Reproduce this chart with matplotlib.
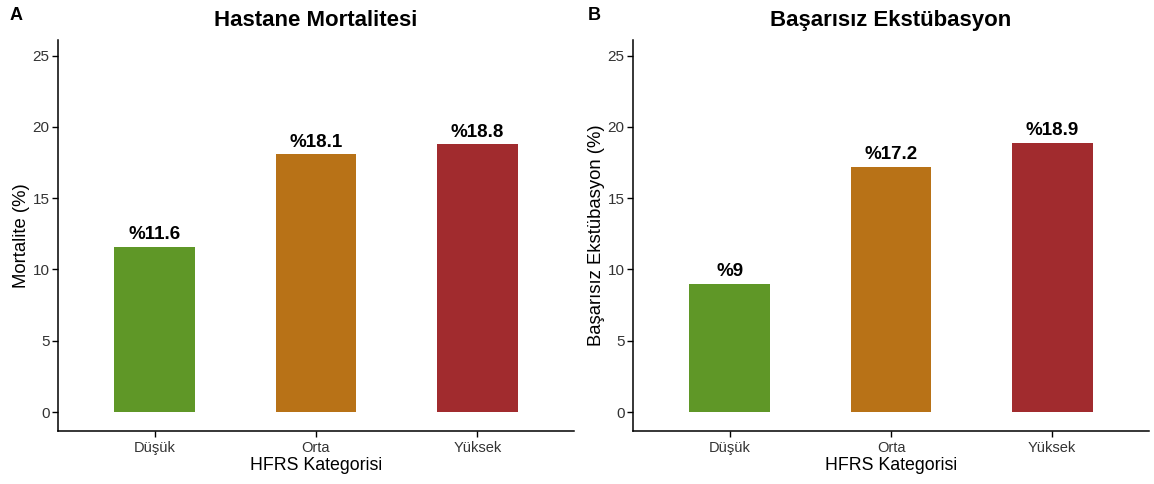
import matplotlib
matplotlib.use("Agg")
import matplotlib.pyplot as plt

plt.rcParams['font.family'] = ['Liberation Sans', 'DejaVu Sans']

categories = ["Düşük", "Orta", "Yüksek"]
mortality = [11.6, 18.1, 18.8]
extubation = [9.0, 17.2, 18.9]
mort_labels = ["%11.6", "%18.1", "%18.8"]
ext_labels = ["%9", "%17.2", "%18.9"]
colors = ["#5F9727", "#B87217", "#A12B2E"]
yticks = [0, 5, 10, 15, 20, 25]

fig = plt.figure(figsize=(11.54, 4.84), dpi=100)
axA = fig.add_axes([58/1154, 1-431/484, (574-58)/1154, (431-40)/484])
axB = fig.add_axes([633/1154, 1-431/484, (1149-633)/1154, (431-40)/484])

def draw(ax, vals, labels, title, ylabel):
    x = list(range(1, len(categories)+1))
    ax.bar(x, vals, width=0.5, color=colors)
    for xi, v, lab in zip(x, vals, labels):
        ax.annotate(lab, (xi, v), xytext=(0, 2.5), textcoords="offset points",
                    ha="center", va="bottom", fontsize=13.5, fontweight="bold")
    ax.set_xlim(0.4, 3.6)
    ax.set_ylim(-1.33, 26.1)
    ax.set_xticks(x)
    ax.set_xticklabels(categories)
    ax.set_yticks(yticks)
    for s in ["top", "right"]:
        ax.spines[s].set_visible(False)
    for s in ["left", "bottom"]:
        ax.spines[s].set_linewidth(1.1)
    ax.tick_params(axis="both", length=4, width=1.0, labelsize=10.5, labelcolor="#333333", pad=3)
    ax.tick_params(axis="y", labelsize=11, pad=2)
    ax.set_xlabel("HFRS Kategorisi", fontsize=12.8, labelpad=2)
    ax.set_ylabel(ylabel, fontsize=13.3, labelpad=2)
    ax.set_title(title, fontsize=16, fontweight="bold", pad=10)

draw(axA, mortality, mort_labels, "Hastane Mortalitesi", "Mortalite (%)")
draw(axB, extubation, ext_labels, "Başarısız Ekstübasyon", "Başarısız Ekstübasyon (%)")

fig.text(10/1154, 1-16/484, "A", fontsize=13, fontweight="bold", va="center", ha="left")
fig.text(588/1154, 1-16/484, "B", fontsize=13, fontweight="bold", va="center", ha="left")

fig.savefig("out.png", dpi=100)
